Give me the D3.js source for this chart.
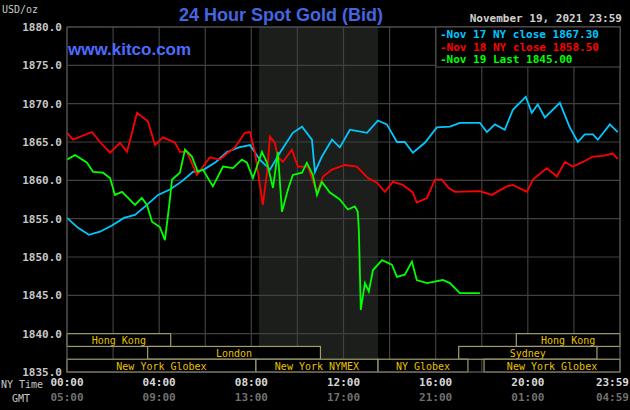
<!DOCTYPE html>
<html>
<head>
<meta charset="utf-8">
<script src="https://cdn.jsdelivr.net/npm/d3@7"></script>
<style>
  body { margin: 0; background: #000; }
  text { font-family: "DejaVu Sans Mono", monospace; }
</style>
</head>
<body>
<div id="chart"></div>
<script>
// hours since 00:00 NY time, prices in USD/oz
const nov17Hours = [0,.48,.95,1.43,1.95,2.47,2.95,3.47,3.95,4.47,4.95,5.47,5.94,6.46,6.94,7.46,7.94,8.37,8.81,9.24,9.8,10.2,10.63,10.76,11.06,11.5,11.84,12.28,13.02,13.49,13.88,14.32,14.66,15.01,15.53,16.05,16.62,17.05,17.92,18.22,18.57,19.0,19.35,19.91,20.17,20.43,20.74,21.39,21.82,22.17,22.47,22.82,23.04,23.56,23.9];
const nov17Prices = [1855.1,1853.8,1852.9,1853.3,1854.1,1855.1,1855.5,1856.8,1858.1,1858.8,1859.8,1861.1,1861.4,1862.4,1863.7,1864.3,1864.6,1862.7,1861.4,1863.6,1866.2,1867,1865.3,1861.1,1863.1,1865.3,1864.3,1866.6,1866.2,1867.8,1867.3,1865,1865,1863.6,1864.9,1866.9,1867,1867.5,1867.5,1866.3,1867.3,1866.6,1869.2,1870.9,1868.8,1869.9,1868.2,1870.1,1866.9,1865,1866,1866,1865.3,1867.3,1866.3];

const nov18Hours = [0,.26,1.08,1.43,1.87,2.3,2.6,2.82,3.04,3.51,3.82,4.16,4.69,4.9,5.21,5.64,6.2,6.64,6.98,7.29,7.72,7.94,8.16,8.5,8.68,8.81,9.02,9.15,9.37,9.76,10.02,10.46,10.85,11.11,11.5,12.06,12.58,13.06,13.45,13.8,14.14,14.58,15.01,15.18,15.62,15.97,16.27,16.57,16.83,17.92,18.44,19.09,19.35,19.96,20.22,20.82,21.26,21.61,21.95,22.39,22.82,23.25,23.69,23.9];
const nov18Prices = [1866.2,1865.3,1866.3,1865,1863.6,1864.9,1863.7,1866.2,1868.8,1867.7,1864.6,1865.6,1864.9,1863.7,1863.7,1860.7,1863,1862.7,1863.6,1864.3,1866.2,1866.3,1863.6,1856.8,1861,1865.7,1864.9,1863.1,1862.4,1864,1861.8,1861.8,1858.4,1860.5,1861.4,1862,1861.8,1860.3,1859.7,1858.5,1859.8,1859.4,1858.4,1857.1,1857.7,1860.1,1860.1,1859,1858.5,1858.6,1858.1,1859.2,1859.4,1858.5,1860.1,1861.6,1860.5,1862.4,1861.8,1862.4,1863.1,1863.2,1863.5,1862.8];

const nov19Hours = [0,.35,.87,1.13,1.56,1.87,2.08,2.39,2.65,2.95,3.25,3.47,3.69,4.03,4.25,4.43,4.56,4.9,5.12,5.42,5.68,5.9,6.33,6.77,7.2,7.59,7.81,8.07,8.46,8.68,8.94,9.15,9.33,9.59,9.8,10.2,10.41,10.67,10.85,11.06,11.41,11.84,12.19,12.49,12.62,12.67,12.75,12.93,13.1,13.28,13.67,14.1,14.32,14.66,14.97,15.18,15.62,16.31,16.62,17.05,17.92];
const nov19Prices = [1862.7,1863.3,1862.3,1861.1,1861,1860.3,1858.1,1858.5,1857.7,1856.8,1857.7,1856.8,1854.6,1853.9,1852.2,1856.6,1860.1,1861,1864,1863.1,1861.1,1861.4,1859.2,1861.8,1861.6,1862.7,1862.3,1860.3,1863.7,1862.3,1859,1863.7,1855.9,1858.8,1860.7,1861,1862.3,1860.7,1858.1,1859.8,1858.4,1857.5,1856.2,1856.6,1855.9,1853.2,1843.1,1846.6,1845.5,1848.3,1849.6,1849,1847.4,1847.7,1849.4,1847,1846.6,1847,1846.6,1845.3,1845.3];

const yTicks = [1835,1840,1845,1850,1855,1860,1865,1870,1875,1880];
const nyTickHours = [0,4,8,12,16,20,23.98];
const nyTickLabels = ["00:00","04:00","08:00","12:00","16:00","20:00","23:59"];
const gmtTickLabels = ["05:00","09:00","13:00","17:00","21:00","01:00","04:59"];
const legendLabels = ["Nov 17 NY close 1867.30","Nov 18 NY close 1858.50","Nov 19 Last 1845.00"];
const seriesColors = ["#00c8ff","#ff0000","#00ff00"];

// trading sessions: [name, start hour, end hour, row]
const sessions = [
  ["Hong Kong", 0, 4.5, 0], ["Hong Kong", 19.5, 24, 0],
  ["London", 3.5, 11, 1], ["Sydney", 17, 23, 1],
  ["New York Globex", 0, 8.2, 2], ["New York NYMEX", 8.2, 13.5, 2],
  ["NY Globex", 13.5, 17.4, 2], ["New York Globex", 18.1, 24, 2]
];

const W = 630, H = 410;
const margin = { top: 27, right: 10, bottom: 38, left: 67 };
const width = W - margin.left - margin.right;
const height = H - margin.top - margin.bottom;

const svg = d3.select("#chart").append("svg")
  .attr("width", W).attr("height", H)
  .style("background", "#000");

const g = svg.append("g")
  .attr("transform", "translate(" + margin.left + "," + margin.top + ")");

const x = d3.scaleLinear().domain([0, 24]).range([0, width]);
const y = d3.scaleLinear().domain([1835, 1880]).range([height, 0]);

// NYMEX shading
g.append("rect")
  .attr("x", x(8.33)).attr("width", x(13.5) - x(8.33))
  .attr("y", 0).attr("height", height)
  .attr("fill", "#1b1e1b");

// grid
g.selectAll(".vgrid").data(d3.range(0, 25, 2)).enter().append("line")
  .attr("x1", d => x(d)).attr("x2", d => x(d))
  .attr("y1", 0).attr("y2", height)
  .attr("stroke", "#404040").attr("stroke-width", 1.2);
g.selectAll(".hgrid").data(yTicks).enter().append("line")
  .attr("x1", 0).attr("x2", width)
  .attr("y1", d => y(d)).attr("y2", d => y(d))
  .attr("stroke", "#404040").attr("stroke-width", 1.2);

// y labels
g.selectAll(".ylab").data(yTicks).enter().append("text")
  .attr("x", -5).attr("y", d => y(d) + 4)
  .attr("text-anchor", "end")
  .attr("fill", "#c8c8c8").attr("font-size", 11).attr("font-weight", "bold")
  .text(d => d.toFixed(1));

// price lines
const line = d3.line().x(d => x(d[0])).y(d => y(d[1]));
const series = [[nov17Hours, nov17Prices], [nov18Hours, nov18Prices], [nov19Hours, nov19Prices]];
series.forEach((s, i) => {
  g.append("path")
    .datum(s[0].map((h, j) => [h, s[1][j]]))
    .attr("fill", "none")
    .attr("stroke", seriesColors[i])
    .attr("stroke-width", 1.8)
    .attr("d", line);
});

// sessions
const rowH = height / 45 * 5 / 3;
const sess = g.selectAll(".sess").data(sessions).enter().append("g");
sess.append("rect")
  .attr("x", d => x(d[1])).attr("width", d => x(d[2]) - x(d[1]))
  .attr("y", d => y(1840) + d[3] * rowH).attr("height", rowH)
  .attr("fill", "#000").attr("stroke", "#a09c70").attr("stroke-width", 1.2);
sess.append("text")
  .attr("x", d => (x(d[1]) + x(d[2])) / 2)
  .attr("y", d => y(1840) + d[3] * rowH + rowH - 2.5)
  .attr("text-anchor", "middle")
  .attr("fill", "#e8c000").attr("font-size", 10)
  .text(d => d[0]);

// plot border
g.append("rect").attr("width", width).attr("height", height)
  .attr("fill", "none").attr("stroke", "#555");

// time axes
const lastTick = nyTickHours.length - 1;
g.selectAll(".nyt").data(nyTickHours).enter().append("text")
  .attr("x", (d, i) => i === lastTick ? width + 9 : x(d)).attr("y", height + 14)
  .attr("text-anchor", (d, i) => i === lastTick ? "end" : "middle").attr("fill", "#d8d8d8")
  .attr("font-size", 11).attr("font-weight", "bold")
  .text((d, i) => nyTickLabels[i]);
g.selectAll(".gmt").data(nyTickHours).enter().append("text")
  .attr("x", (d, i) => i === lastTick ? width + 9 : x(d)).attr("y", height + 29)
  .attr("text-anchor", (d, i) => i === lastTick ? "end" : "middle").attr("fill", "#707070")
  .attr("font-size", 11).attr("font-weight", "bold")
  .text((d, i) => gmtTickLabels[i]);
svg.append("text").attr("x", 1).attr("y", 388).attr("fill", "#c8c8c8")
  .attr("font-size", 10).text("NY Time");
svg.append("text").attr("x", 12).attr("y", 402).attr("fill", "#c8c8c8")
  .attr("font-size", 10).text("GMT");

// header
svg.append("text").attr("x", 2).attr("y", 13).attr("fill", "#c8c8c8")
  .attr("font-size", 10).text("USD/oz");
svg.append("text").attr("x", 281).attr("y", 21).attr("text-anchor", "middle")
  .attr("fill", "#4466e0").attr("font-size", 18).attr("font-weight", "bold")
  .style("font-family", "'Liberation Sans', Arial, sans-serif")
  .text("24 Hour Spot Gold (Bid)");
svg.append("text").attr("x", 68).attr("y", 55)
  .attr("fill", "#4d6bff").attr("font-size", 17).attr("font-weight", "bold")
  .style("font-family", "'Liberation Sans', Arial, sans-serif")
  .text("www.kitco.com");
svg.append("text").attr("x", 622).attr("y", 22).attr("text-anchor", "end")
  .attr("fill", "#d0d0d0").attr("font-size", 11).attr("font-weight", "bold")
  .text("November 19, 2021 23:59");

// legend
const lg = svg.append("g").attr("transform", "translate(436,27)");
lg.append("rect").attr("width", 184).attr("height", 40)
  .attr("fill", "#000").attr("stroke", "#555");
lg.selectAll("text").data(legendLabels).enter().append("text")
  .attr("x", 4).attr("y", (d, i) => 11 + i * 12.5)
  .attr("fill", (d, i) => seriesColors[i])
  .attr("font-size", 11).attr("font-weight", "bold")
  .text(d => "-" + d);
</script>
</body>
</html>
